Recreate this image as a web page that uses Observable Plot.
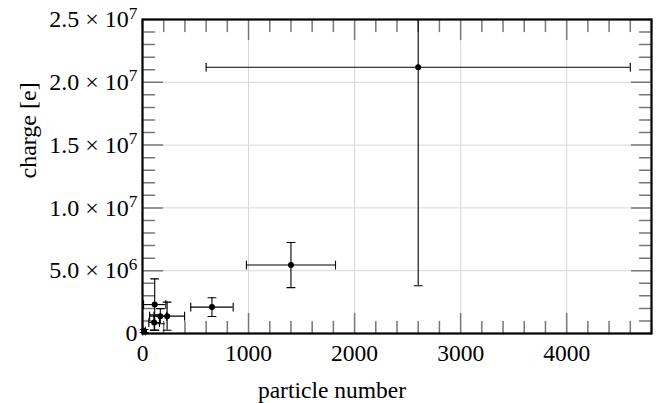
<!DOCTYPE html>
<html>
<head>
<meta charset="utf-8">
<script src="https://cdn.jsdelivr.net/npm/d3@7"></script>
<script src="https://cdn.jsdelivr.net/npm/@observablehq/plot@0.6"></script>
<style>
  html, body { margin: 0; padding: 0; background: #fff; }
</style>
</head>
<body>
<div id="chart"></div>
<script>
// ---- data ----
const particleNumber = [2600, 1400, 655, 115, 232, 168, 110, 15];
const particleErr    = [2000, 420, 200, 105, 165, 60, 50, 12];
const charge         = [2.12e7, 5.45e6, 2.1e6, 2.3e6, 1.38e6, 1.38e6, 0.88e6, 0.2e6];
const chargeErr      = [1.74e7, 1.8e6, 0.75e6, 2.05e6, 1.12e6, 0.6e6, 0.6e6, 0.12e6];
const xTicks = [0, 1000, 2000, 3000, 4000];
const yTicks = [0, 5e6, 1e7, 1.5e7, 2e7, 2.5e7];
const xDomain = [0, 4800];
const yDomain = [0, 2.5e7];
const xMinor = d3.range(0, 4801, 200);
const yMinor = d3.range(0, 2.5e7 + 1, 1e6);
const xLabel = "particle number";
const yLabel = "charge [e]";

// pick the first serif font that is really installed
function hasFont(name) {
  const c = document.createElement("canvas").getContext("2d");
  const s = "particle number 2.5 × 10 charge [e] mmmwwwiii";
  c.font = "40px monospace"; const w0 = c.measureText(s).width;
  c.font = "40px sans-serif"; const w1 = c.measureText(s).width;
  c.font = `40px '${name}', monospace`; const a = c.measureText(s).width;
  c.font = `40px '${name}', sans-serif`; const b = c.measureText(s).width;
  return a !== w0 || b !== w1;
}
const candidates = ["Liberation Serif", "Times New Roman", "Tinos", "Times", "Noto Serif", "DejaVu Serif"];
const font = candidates.find(hasFont) || "serif";
const k = font === "DejaVu Serif" || font === "Noto Serif" ? 0.84 : 1;
const fontStack = `'${font}', 'Liberation Serif', 'Times New Roman', serif`;

const yMax = yDomain[1];
const rows = particleNumber.map((x, i) => ({
  x, y: charge[i], xe: particleErr[i], ye: chargeErr[i]
}));
const topCaps = rows.filter(d => d.y + d.ye <= yMax);

const capShape = {draw(ctx, l) { ctx.moveTo(0, 0); ctx.lineTo(0, -l); }};

function fmtY(d) {
  if (d === 0) return "0";
  const e = Math.floor(Math.log10(d));
  const m = d / Math.pow(10, e);
  return m.toFixed(1) + " × 10^" + e;
}

const plot = Plot.plot({
  width: 660,
  height: 403,
  marginLeft: 142,
  marginRight: 9,
  marginTop: 19,
  marginBottom: 70,
  style: {fontFamily: fontStack, fontSize: `${23 * k}px`},
  x: {domain: xDomain},
  y: {domain: yDomain},
  marks: [
    Plot.gridX(xTicks.slice(1), {stroke: "#d8d8d8", strokeOpacity: 1, strokeWidth: 1}),
    Plot.gridY(yTicks.slice(1, -1), {stroke: "#d8d8d8", strokeOpacity: 1, strokeWidth: 1}),
    // inward minor ticks
    Plot.vector(xMinor, {x: d => d, frameAnchor: "bottom", length: d => xTicks.includes(d) ? 5 : 3, anchor: "start", rotate: 0, shape: capShape, stroke: "#777", strokeWidth: 1.5}),
    Plot.vector(xMinor, {x: d => d, frameAnchor: "top", length: d => xTicks.includes(d) ? 5 : 3, anchor: "start", rotate: 180, shape: capShape, stroke: "#777", strokeWidth: 1.5}),
    Plot.vector(yMinor, {y: d => d, frameAnchor: "left", length: d => yTicks.includes(d) ? 5 : 3, anchor: "start", rotate: 90, shape: capShape, stroke: "#777", strokeWidth: 1.5}),
    Plot.vector(yMinor, {y: d => d, frameAnchor: "right", length: d => yTicks.includes(d) ? 5 : 3, anchor: "start", rotate: -90, shape: capShape, stroke: "#777", strokeWidth: 1.5}),
    // error bars
    Plot.ruleY(rows, {y: "y", x1: d => d.x - d.xe, x2: d => d.x + d.xe, stroke: "#000", strokeWidth: 1.1}),
    Plot.ruleX(rows, {x: "x", y1: d => d.y - d.ye, y2: d => Math.min(d.y + d.ye, yMax), stroke: "#000", strokeWidth: 1.1}),
    Plot.vector(rows, {x: d => d.x - d.xe, y: "y", length: 8, anchor: "middle", rotate: 0, shape: capShape, stroke: "#000", strokeWidth: 1.1}),
    Plot.vector(rows, {x: d => d.x + d.xe, y: "y", length: 8, anchor: "middle", rotate: 0, shape: capShape, stroke: "#000", strokeWidth: 1.1}),
    Plot.vector(rows, {x: "x", y: d => d.y - d.ye, length: 8, anchor: "middle", rotate: 90, shape: capShape, stroke: "#000", strokeWidth: 1.1}),
    Plot.vector(topCaps, {x: "x", y: d => d.y + d.ye, length: 8, anchor: "middle", rotate: 90, shape: capShape, stroke: "#000", strokeWidth: 1.1}),
    Plot.dot(rows, {x: "x", y: "y", r: 3, fill: "#000"}),
    Plot.frame({stroke: "#000", strokeWidth: 2.2}),
    Plot.axisX({ticks: xTicks, tickSize: 0, tickPadding: 11, label: null, tickFormat: d => String(d), fontSize: 23.5 * k, fontFamily: fontStack}),
    Plot.axisY({ticks: yTicks, tickSize: 0, tickPadding: 5, label: null, tickFormat: fmtY, fontSize: 24 * k, fontFamily: fontStack}),
    Plot.text([xLabel], {frameAnchor: "bottom", text: d => d, dy: 48, dx: -65, lineAnchor: "top", fontSize: 23.5 * k, fontFamily: fontStack}),
    Plot.text([yLabel], {frameAnchor: "left", text: d => d, rotate: -90, dx: -114, dy: 2, fontSize: 24 * k, fontFamily: fontStack})
  ]
});

// superscripts for the y tick labels
d3.select(plot).selectAll('g[aria-label="y-axis tick label"] text').each(function() {
  const t = d3.select(this);
  const s = t.text();
  const i = s.indexOf("^");
  if (i < 0) return;
  t.text(s.slice(0, i));
  t.append("tspan").attr("dy", "-0.5em").attr("font-size", "0.72em").text(s.slice(i + 1));
});

document.getElementById("chart").appendChild(plot);
</script>
</body>
</html>
